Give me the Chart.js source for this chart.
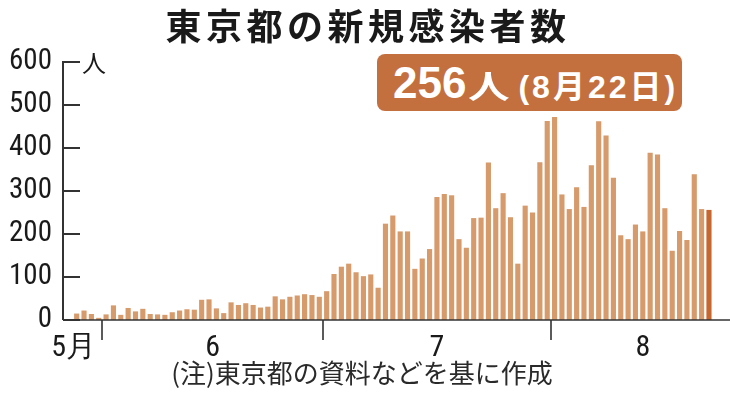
<!DOCTYPE html>
<html lang="ja">
<head>
<meta charset="utf-8">
<title>東京都の新規感染者数</title>
<script src="https://cdn.jsdelivr.net/npm/chart.js@4.4.1/dist/chart.umd.min.js"></script>
<style>
  html, body { margin: 0; padding: 0; background: #fff; }
  #wrap { position: relative; width: 730px; height: 395px; overflow: hidden;
          font-family: 'Noto Sans CJK JP', 'Noto Sans', sans-serif; color: #1a1a1a; }
  #chart { position: absolute; left: 0; top: 0; }
  .title { position: absolute; left: 3px; top: 0; width: 730px; height: 48px; line-height: 48px;
           text-align: center; font-size: 36px; font-weight: 700; letter-spacing: 4.5px; }
  .badge { position: absolute; left: 377px; top: 54px; width: 305px; height: 57px;
           background: #c4703e; border-radius: 8px; color: #fff; white-space: nowrap;
           box-sizing: border-box; padding-left: 16px; line-height: 57px; }
  .badge .num  { font-family: 'Liberation Sans', Arial, sans-serif; font-size: 44px; font-weight: 700; }
  .badge .unit { display: inline-block; font-size: 32px; font-weight: 700; margin-left: 2px; margin-right: 18px;
                 transform: scaleX(1.3); transform-origin: left center; }
  .badge .date { font-family: 'Liberation Sans', 'Noto Sans CJK JP', sans-serif; font-size: 32px;
                 font-weight: 700; letter-spacing: 3px; }
  .note { position: absolute; left: 0; top: 357px; width: 730px; text-align: center;
          font-size: 26px; line-height: 30px; color: #2a2a2a; padding-right: 6px; box-sizing: border-box; }
</style>
</head>
<body>
<div id="wrap">
  <canvas id="chart" width="730" height="395"></canvas>
  <div class="title">東京都の新規感染者数</div>
  <div class="badge"><span class="num">256</span><span class="unit">人</span><span class="date">(8月22日)</span></div>
  <div class="note">(注)東京都の資料などを基に作成</div>
</div>

<script>
// ── DATA ───────────────────────────────────────
// 新規感染者数（人）— 5/28 から 8/22 まで、月ごと
const casesMay = [15, 22, 14, 5];                       // 5/28–5/31
const casesJun = [13, 34, 12, 28, 20, 26, 14, 13, 12, 18,
                  22, 25, 24, 47, 48, 27, 16, 41, 35, 39,
                  35, 29, 31, 55, 48, 54, 57, 60, 58, 54];
const casesJul = [67, 107, 124, 131, 111, 102, 106, 75, 224, 243,
                  206, 206, 119, 143, 165, 286, 293, 290, 188, 168,
                  237, 238, 366, 260, 295, 239, 131, 266, 250, 367, 463];
const casesAug = [472, 292, 258, 309, 263, 360, 462, 429, 331, 197,
                  188, 222, 206, 389, 385, 260, 161, 207, 186, 339, 258, 256];  // 8/1–8/22

const monthNums   = [5, 6, 7, 8];
const firstDays   = [28, 1, 1, 1];
const monthLabels = ['5月', '6', '7', '8'];
const yTickValues = [0, 100, 200, 300, 400, 500, 600];
const unitLabel   = '人';

const BAR_COLOR  = '#d69a6b';
const LAST_COLOR = '#c6672f';

// ── BUILD ──────────────────────────────────────
const byMonth  = [casesMay, casesJun, casesJul, casesAug];
const allCases = byMonth.flat();
const labels   = [];
byMonth.forEach((arr, m) => arr.forEach((_, d) => labels.push(`${monthNums[m]}/${firstDays[m] + d}`)));

// índice do primeiro dia de cada mês (fronteiras dos meses)
const monthStarts = [];
let acc = 0;
byMonth.forEach((arr, m) => { if (m > 0) monthStarts.push(acc); acc += arr.length; });

const points = allCases.map((v, i) => ({ x: i, y: v }));
const colors = allCases.map((_, i) => i === allCases.length - 1 ? LAST_COLOR : BAR_COLOR);

const AXIS_FONT = "'Liberation Sans Narrow', 'Arial Narrow', 'Roboto Condensed', sans-serif";

// ── AXES DECORATION ────────────────────────────
const axesDeco = {
  id: 'axesDeco',
  afterDraw(chart, _args, opts) {
    const { ctx, chartArea: a, scales: { x, y } } = chart;
    ctx.save();
    ctx.strokeStyle = '#333';
    ctx.lineWidth = 2;

    // eixo y + ticks para dentro
    ctx.beginPath();
    ctx.moveTo(a.left, a.top - 1);
    ctx.lineTo(a.left, a.bottom);
    yTickValues.forEach(v => {
      const py = y.getPixelForValue(v);
      ctx.moveTo(a.left, py);
      ctx.lineTo(a.left + 17, py);
    });
    ctx.stroke();

    // linha de base
    ctx.lineWidth = 1.6;
    ctx.beginPath();
    ctx.moveTo(a.left, a.bottom);
    ctx.lineTo(a.right, a.bottom);
    ctx.stroke();

    // fronteiras dos meses
    ctx.beginPath();
    monthStarts.forEach(i => {
      const px = Math.round(x.getPixelForValue(i - 0.5));
      ctx.moveTo(px, a.bottom);
      ctx.lineTo(px, a.bottom + 20);
    });
    ctx.stroke();

    // rótulos dos meses
    ctx.fillStyle = '#1a1a1a';
    ctx.font = `30px ${AXIS_FONT}`;
    ctx.textAlign = 'center';
    ctx.textBaseline = 'alphabetic';
    monthLabels.forEach((t, i) => {
      ctx.fillText(t, x.getPixelForValue(opts.labelAt[i]), a.bottom + 36);
    });

    // unidade
    ctx.font = "24px 'Noto Sans CJK JP', sans-serif";
    ctx.textBaseline = 'middle';
    ctx.fillText(unitLabel, a.left + 31, a.top + 1);
    ctx.restore();
  }
};

// ── CHART ──────────────────────────────────────
new Chart(document.getElementById('chart'), {
  type: 'bar',
  data: {
    labels,
    datasets: [{
      data: points,
      backgroundColor: colors,
      borderWidth: 0,
      barPercentage: 0.7,
      categoryPercentage: 1
    }]
  },
  options: {
    responsive: false,
    animation: false,
    devicePixelRatio: 1,
    layout: { padding: { top: 62, bottom: 75, left: 0, right: 0 } },
    plugins: {
      legend: { display: false },
      tooltip: { enabled: false },
      axesDeco: { labelAt: [-0.4, 18.5, 49, 77] }
    },
    scales: {
      x: { type: 'linear', min: -1.86, max: 88.86, offset: false, display: false },
      y: {
        min: 0, max: 600,
        afterBuildTicks: s => { s.ticks = yTickValues.map(v => ({ value: v })); },
        afterFit: s => { s.width = 63; },
        grid: { display: false, drawTicks: false },
        border: { display: false },
        ticks: { padding: 11, color: '#1a1a1a', font: { size: 29, family: AXIS_FONT } }
      }
    }
  },
  plugins: [axesDeco]
});
</script>
</body>
</html>
